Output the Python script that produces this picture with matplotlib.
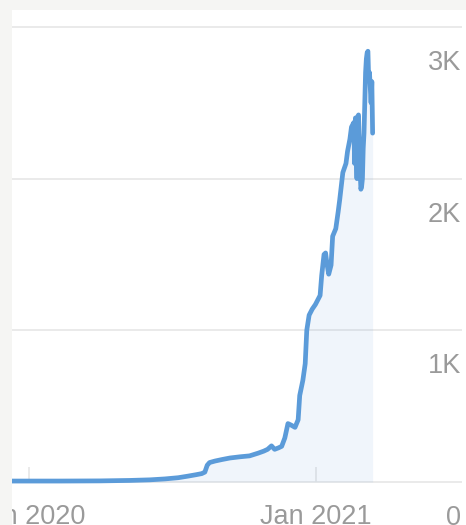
#!/usr/bin/env python3
"""
Recreate the growth chart: a single traffic-style line with a light fill,
y labels sitting under each gridline on the right, and year ticks.

Usage:
    python plot.py
"""

import matplotlib
matplotlib.use('Agg')
import matplotlib.pyplot as plt
import matplotlib.dates as mdates
import pandas as pd
from matplotlib.patches import Rectangle


# Values
dates = [
    '2019-12-10', '2020-02-09', '2020-03-31', '2020-05-08', '2020-06-03',
    '2020-06-22', '2020-07-09', '2020-07-21', '2020-08-01', '2020-08-08',
    '2020-08-12', '2020-08-15', '2020-08-18', '2020-08-25', '2020-09-03',
    '2020-09-13', '2020-09-26', '2020-10-08', '2020-10-19', '2020-10-26',
    '2020-10-31', '2020-11-05', '2020-11-09', '2020-11-14', '2020-11-18',
    '2020-11-22', '2020-11-26', '2020-11-30', '2020-12-05', '2020-12-09',
    '2020-12-11', '2020-12-15', '2020-12-18', '2020-12-20', '2020-12-23',
    '2020-12-27', '2020-12-31', '2021-01-03', '2021-01-06', '2021-01-08',
    '2021-01-11', '2021-01-13', '2021-01-15', '2021-01-17', '2021-01-20',
    '2021-01-22', '2021-01-26', '2021-01-29', '2021-01-31', '2021-02-04',
    '2021-02-08', '2021-02-10', '2021-02-13', '2021-02-15', '2021-02-18',
    '2021-02-19', '2021-02-20', '2021-02-22', '2021-02-23', '2021-02-24',
    '2021-02-25', '2021-02-27', '2021-02-28', '2021-03-01', '2021-03-02',
    '2021-03-03', '2021-03-05', '2021-03-06', '2021-03-07', '2021-03-08',
    '2021-03-09', '2021-03-10', '2021-03-12', '2021-03-13', '2021-03-14',
]
values = [
    6, 6, 7, 10, 14,
    20, 28, 38, 48, 55,
    65, 110, 128, 138, 148,
    158, 166, 172, 190, 203,
    215, 238, 215, 225, 235,
    290, 385, 375, 360, 410,
    570, 670, 780, 1000, 1100,
    1140, 1170, 1200, 1230, 1360,
    1500, 1510, 1430, 1370, 1430,
    1620, 1670, 1780, 1860, 2040,
    2100, 2180, 2260, 2340, 2370,
    2100, 2400, 2000, 2410, 2420,
    2200, 1930, 1950, 2000, 2200,
    2300, 2700, 2790, 2830, 2840,
    2650, 2700, 2500, 2640, 2300,
]

y_ticks = [0, 1000, 2000, 3000]
y_tick_labels = ['0', '1K', '2K', '3K']
x_ticks = ['2020-01-01', '2021-01-01']
x_tick_labels = ['Jan 2020', 'Jan 2021']
x_range = ['2019-12-10', '2021-07-06']


def main():
    plt.rcParams['font.family'] = ['Liberation Sans', 'DejaVu Sans']

    fig = plt.figure(figsize=(4.66, 5.25), dpi=100, facecolor='#f5f5f3')
    # white card behind the chart (drawn below the axes)
    card = Rectangle((12 / 466, 0), 1, 515 / 525, transform=fig.transFigure,
                     facecolor='white', edgecolor='none', zorder=-10)
    fig.patches.append(card)

    ax = fig.add_axes([12 / 466, 30 / 525, 450 / 466, 475 / 525])
    ax.set_facecolor('none')
    ax.set_zorder(1)

    x = pd.to_datetime(dates)
    x_lim = pd.to_datetime(x_range)
    ax.set_xlim(x_lim[0], x_lim[1])
    ax.set_ylim(-86, 3046)

    text_color = '#9a9a9a'
    grid_color = '#e6e6e6'
    fsize = 19.5

    for v, lab in zip(y_ticks, y_tick_labels):
        ax.axhline(v, color=grid_color, lw=1.2, zorder=1)
        ax.annotate(lab, xy=(0.998, v), xycoords=('axes fraction', 'data'),
                    xytext=(0, -26), textcoords='offset points',
                    ha='right', va='center', fontsize=fsize, color=text_color,
                    annotation_clip=False)

    # labels are cut where the white card begins
    clip_box = Rectangle((12 / 466, 0), 1, 1, transform=fig.transFigure)
    for d, lab in zip(pd.to_datetime(x_ticks), x_tick_labels):
        ax.vlines(d, 0, 100, color=grid_color, lw=1.2, zorder=1)
        t = ax.annotate(lab, xy=(mdates.date2num(d), 0), xycoords='data',
                        xytext=(0, -25), textcoords='offset points',
                        ha='center', va='center', fontsize=fsize,
                        color=text_color, annotation_clip=False)
        t.set_clip_path(clip_box)

    ax.fill_between(x, 0, values, color='#5a9ad8', alpha=0.09, lw=0, zorder=2)
    ax.plot(x, values, color='#5b9bd9', lw=3.4, solid_joinstyle='round',
            solid_capstyle='round', zorder=3)

    ax.set_xticks([])
    ax.set_yticks([])
    for s in ax.spines.values():
        s.set_visible(False)

    fig.savefig('out.png', dpi=100, facecolor=fig.get_facecolor())
    plt.close(fig)


if __name__ == "__main__":
    main()
